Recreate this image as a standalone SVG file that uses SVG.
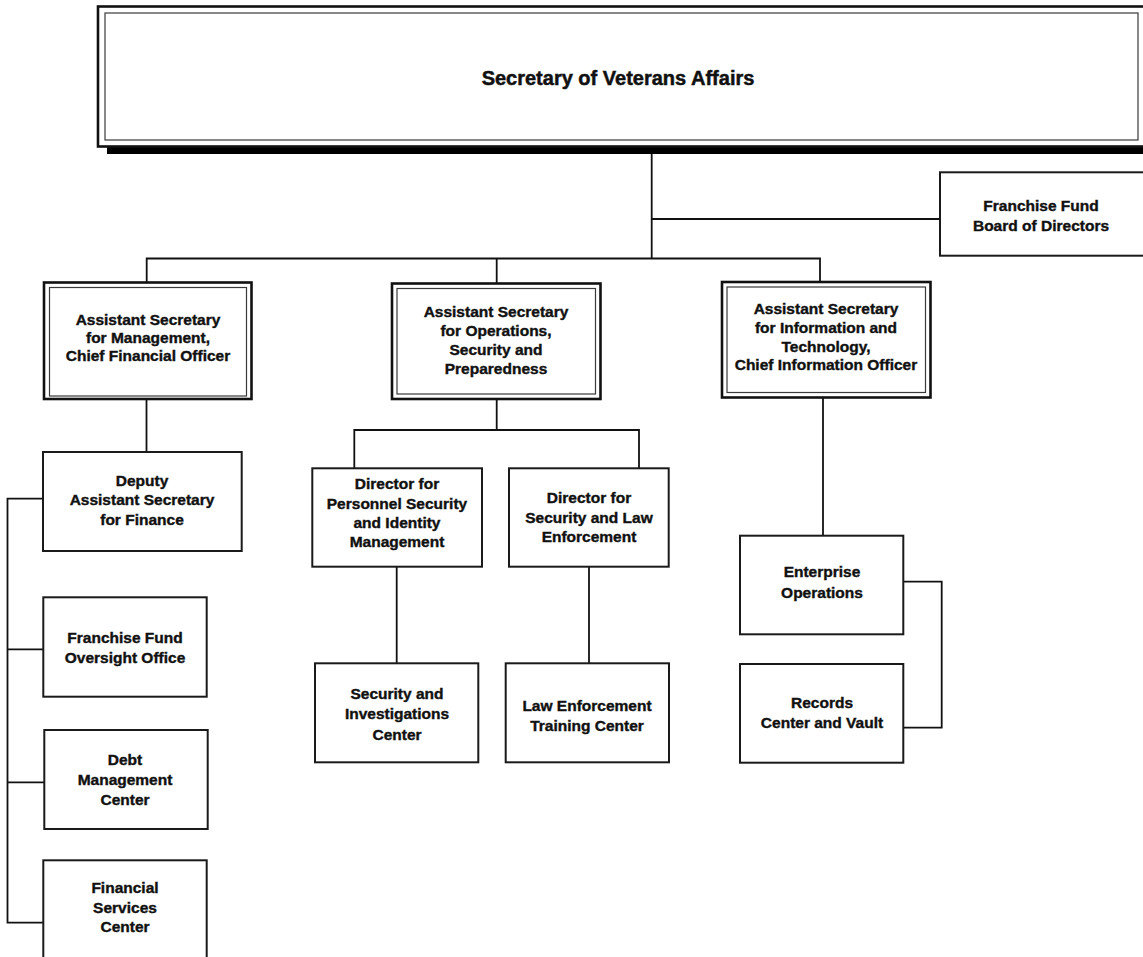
<svg xmlns="http://www.w3.org/2000/svg" width="1143" height="957" viewBox="0 0 1143 957">
<style>
  .bg { fill: #ffffff; }
  .box { fill: #ffffff; stroke: #1a1a1a; stroke-width: 2; }
  .outer { fill: #ffffff; stroke: #111111; stroke-width: 2.6; }
  .inner { fill: none; stroke: #3a3a3a; stroke-width: 1.2; }
  .conn { fill: none; stroke: #111111; stroke-width: 1.8; }
  text { font-family: "Liberation Sans", Arial, sans-serif; font-weight: bold; font-size: 15.5px; fill: #111111; stroke: #111111; stroke-width: 0.4; text-anchor: middle; }
  .title { font-size: 20px; stroke-width: 0.5; }
</style>
<rect class="bg" x="0" y="0" width="1143" height="957"/>

<g id="connectors">
  <path class="conn" d="M651.7,153 V258.5"/>
  <path class="conn" d="M651.7,219 H940"/>
  <path class="conn" d="M146.7,282 V258.5 H820 V282"/>
  <path class="conn" d="M496.7,258.5 V283.3"/>
  <path class="conn" d="M146.5,399 V452"/>
  <path class="conn" d="M496.7,399 V430"/>
  <path class="conn" d="M354.3,468.3 V430 H639 V468.3"/>
  <path class="conn" d="M396.7,567 V663.3"/>
  <path class="conn" d="M589,567 V663.3"/>
  <path class="conn" d="M823,398 V535.7"/>
  <path class="conn" d="M903.3,581.7 H941.7 V727.7 H903.3"/>
  <path class="conn" d="M43,498.7 H7.5 V922.7 H43"/>
  <path class="conn" d="M7.5,649.3 H43"/>
  <path class="conn" d="M7.5,782.3 H44"/>
</g>

<g id="secretary">
  <rect x="107" y="146" width="1040" height="8" fill="#000000"/>
  <rect class="outer" x="98" y="6.5" width="1060" height="140"/>
  <rect class="inner" x="105" y="13" width="1033" height="127"/>
  <text class="title" x="618" y="85">Secretary of Veterans Affairs</text>
</g>

<g id="board">
  <rect class="box" x="940" y="172.3" width="210" height="83.4"/>
  <text x="1041" y="210.5">Franchise Fund</text>
  <text x="1041" y="230.5">Board of Directors</text>
</g>

<g id="as-management">
  <rect class="outer" x="44" y="282.5" width="207.5" height="116.5"/>
  <rect class="inner" x="49.5" y="287.5" width="197" height="108.5"/>
  <text x="148" y="324.5">Assistant Secretary</text>
  <text x="148" y="342.5">for Management,</text>
  <text x="148" y="360.5">Chief Financial Officer</text>
</g>

<g id="as-operations">
  <rect class="outer" x="392" y="283.5" width="208.5" height="115.5"/>
  <rect class="inner" x="397" y="288.5" width="198.5" height="105.5"/>
  <text x="496" y="316.5">Assistant Secretary</text>
  <text x="496" y="335.5">for Operations,</text>
  <text x="496" y="354.5">Security and</text>
  <text x="496" y="373.5">Preparedness</text>
</g>

<g id="as-it">
  <rect class="outer" x="722" y="282" width="208.5" height="115.5"/>
  <rect class="inner" x="727" y="287" width="198.5" height="105.5"/>
  <text x="826" y="313.5">Assistant Secretary</text>
  <text x="826" y="332.5">for Information and</text>
  <text x="826" y="351.5">Technology,</text>
  <text x="826" y="369.5">Chief Information Officer</text>
</g>

<g id="deputy-finance">
  <rect class="box" x="43" y="452" width="198.7" height="99"/>
  <text x="142" y="485.5">Deputy</text>
  <text x="142" y="504.5">Assistant Secretary</text>
  <text x="142" y="524.5">for Finance</text>
</g>

<g id="franchise-oversight">
  <rect class="box" x="43.3" y="597.3" width="163.4" height="99.4"/>
  <text x="125" y="642.5">Franchise Fund</text>
  <text x="125" y="662.5">Oversight Office</text>
</g>

<g id="debt-management">
  <rect class="box" x="44.3" y="730" width="163.4" height="99"/>
  <text x="125" y="764.5">Debt</text>
  <text x="125" y="784.5">Management</text>
  <text x="125" y="804.5">Center</text>
</g>

<g id="financial-services">
  <rect class="box" x="43.3" y="860.3" width="163.4" height="110"/>
  <text x="125" y="892.5">Financial</text>
  <text x="125" y="912.5">Services</text>
  <text x="125" y="931.5">Center</text>
</g>

<g id="personnel-security">
  <rect class="box" x="312.3" y="468.3" width="169.7" height="98.4"/>
  <text x="397" y="488.5">Director for</text>
  <text x="397" y="508.5">Personnel Security</text>
  <text x="397" y="527.5">and Identity</text>
  <text x="397" y="546.5">Management</text>
</g>

<g id="security-law">
  <rect class="box" x="509" y="468.3" width="159.7" height="98.4"/>
  <text x="589" y="502.5">Director for</text>
  <text x="589" y="522.5">Security and Law</text>
  <text x="589" y="541.5">Enforcement</text>
</g>

<g id="security-investigations">
  <rect class="box" x="315" y="663.3" width="163.3" height="99"/>
  <text x="397" y="698.5">Security and</text>
  <text x="397" y="718.5">Investigations</text>
  <text x="397" y="739.5">Center</text>
</g>

<g id="law-training">
  <rect class="box" x="505.7" y="663.3" width="163.3" height="99"/>
  <text x="587" y="710.5">Law Enforcement</text>
  <text x="587" y="730.5">Training Center</text>
</g>

<g id="enterprise-operations">
  <rect class="box" x="740" y="535.7" width="163.3" height="98.6"/>
  <text x="822" y="576.5">Enterprise</text>
  <text x="822" y="597.5">Operations</text>
</g>

<g id="records-vault">
  <rect class="box" x="740" y="664" width="163.3" height="98.7"/>
  <text x="822" y="707.5">Records</text>
  <text x="822" y="727.5">Center and Vault</text>
</g>
</svg>
